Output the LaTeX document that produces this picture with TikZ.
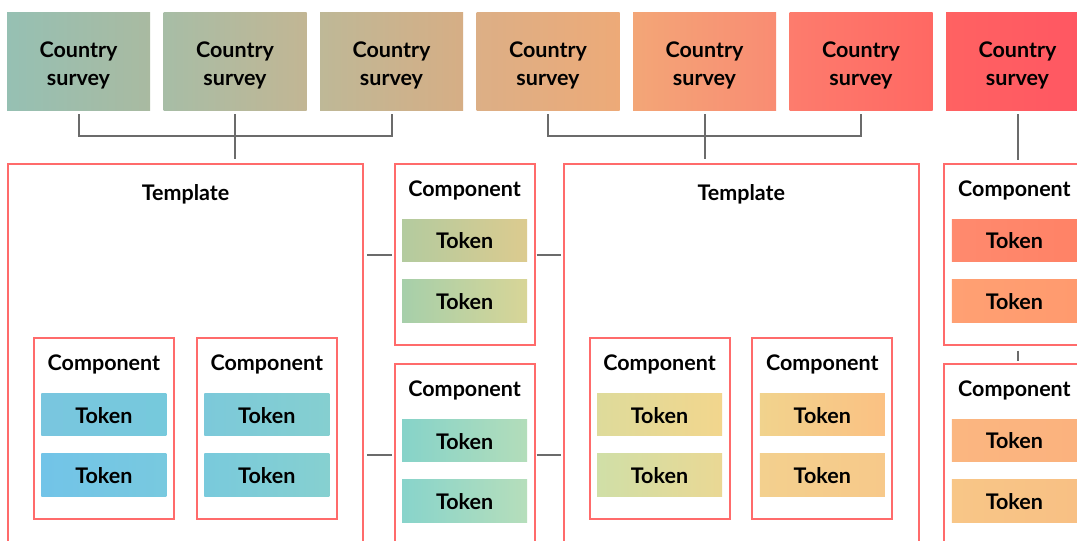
\documentclass[tikz,border=0pt]{standalone}
\usepackage{fontspec}
\setmainfont{Lato}
\definecolor{framered}{HTML}{FF6B6B}
\definecolor{conngray}{HTML}{6B6B6B}
% survey gradient colours
\definecolor{s1l}{HTML}{96C0B3}\definecolor{s1r}{HTML}{A9BAA1}
\definecolor{s2l}{HTML}{A7BDA6}\definecolor{s2r}{HTML}{C2B694}
\definecolor{s3l}{HTML}{BEB897}\definecolor{s3r}{HTML}{D6AE85}
\definecolor{s4l}{HTML}{DCAF86}\definecolor{s4r}{HTML}{EDAA78}
\definecolor{s5l}{HTML}{F3A677}\definecolor{s5r}{HTML}{F98C73}
\definecolor{s6l}{HTML}{FD7C6D}\definecolor{s6r}{HTML}{FF6863}
\definecolor{s7l}{HTML}{FF6262}\definecolor{s7r}{HTML}{FF5662}
% token colours
\definecolor{aal}{HTML}{79C6DF}\definecolor{aar}{HTML}{76C9DC}
\definecolor{abl}{HTML}{72C4E8}\definecolor{abr}{HTML}{78C9DF}
\definecolor{bal}{HTML}{7CC9DA}\definecolor{bar}{HTML}{85CFD0}
\definecolor{bbl}{HTML}{79CADC}\definecolor{bbr}{HTML}{86D0D0}
\definecolor{mal}{HTML}{B3CB9F}\definecolor{mar}{HTML}{DCCB8F}
\definecolor{mbl}{HTML}{A6CFAA}\definecolor{mbr}{HTML}{D8D597}
\definecolor{nal}{HTML}{86D3C9}\definecolor{nar}{HTML}{B3DDBA}
\definecolor{nbl}{HTML}{88D4CB}\definecolor{nbr}{HTML}{B6DEBB}
\definecolor{cal}{HTML}{DEDB9B}\definecolor{car}{HTML}{F2D68D}
\definecolor{cbl}{HTML}{D0DFA7}\definecolor{cbr}{HTML}{EAD894}
\definecolor{dal}{HTML}{F1D38D}\definecolor{dar}{HTML}{FBC183}
\definecolor{dbl}{HTML}{F3D08E}\definecolor{dbr}{HTML}{F7C98A}
\definecolor{ral}{HTML}{FF8A6E}\definecolor{rar}{HTML}{FF8266}
\definecolor{rbl}{HTML}{FFA073}\definecolor{rbr}{HTML}{FF9A6E}
\definecolor{qal}{HTML}{FBB680}\definecolor{qar}{HTML}{FBB27E}
\definecolor{qbl}{HTML}{F8C687}\definecolor{qbr}{HTML}{F8C084}
\newcommand\lblfont{\fontsize{21.5}{28}\selectfont\bfseries}
\tikzset{
  survey/.style={rectangle, inner sep=0pt, outer sep=0pt, minimum width=143pt, minimum height=98.7pt},
  stext/.style={inner sep=0pt, align=center, font=\lblfont},
  frame/.style={rectangle, inner sep=0pt, outer sep=0pt, anchor=north west, draw=framered, line width=2pt, fill=white},
  tmpl/.style={frame, minimum width=355.5pt, minimum height=440pt},
  comp/.style={frame, minimum width=140pt, minimum height=181pt},
  ctitle/.style={inner sep=0pt, anchor=base, font=\lblfont},
  tok/.style={rectangle, inner sep=0pt, outer sep=0pt, minimum width=125pt, minimum height=42.5pt, font=\lblfont, text height=17pt, text depth=0pt},
  conn/.style={draw=conngray, line width=2pt},
}
\newcommand\mkcomp[7]{%
  \node[comp] (#1) at (#2,#3) {};
  \node[ctitle] (#1t) at ([yshift=-32.5pt]#1.north) {Component};
  \node[tok, left color=#4, right color=#5] (#1a) at ([yshift=-76.25pt]#1.north) {Token};
  \node[tok, left color=#6, right color=#7] (#1b) at ([yshift=-136.75pt]#1.north) {Token};
}
\begin{document}
\begin{tikzpicture}[x=1pt,y=-1pt]
\useasboundingbox (0,0) rectangle (1077,541);
\clip (0,0) rectangle (1077,541);
\fill[white] (0,0) rectangle (1077,541);
% country surveys
\foreach \i/\x in {1/78.5,2/235,3/391.5,4/548,5/704.5,6/861,7/1017.5}{
  \node[survey, left color=s\i l, right color=s\i r] (c\i) at (\x,61.35) {};
  \node[stext] (c\i t) at ([yshift=-4.2pt]c\i.center) {Country\\survey};
}
% templates
\node[tmpl] (tp1) at (7.8,163.5) {};
\node[ctitle] (tp1t) at ([yshift=-37.3pt]tp1.north) {Template};
\node[tmpl] (tp2) at (563.5,163.5) {};
\node[ctitle] (tp2t) at ([yshift=-37.3pt]tp2.north) {Template};
% components inside templates
\mkcomp{ka}{33.9}{338.3}{aal}{aar}{abl}{abr}
\mkcomp{kb}{196.8}{338.3}{bal}{bar}{bbl}{bbr}
\mkcomp{kc}{589.5}{338.3}{cal}{car}{cbl}{cbr}
\mkcomp{kd}{752.3}{338.3}{dal}{dar}{dbl}{dbr}
% middle components
\mkcomp{m1}{394.6}{164}{mal}{mar}{mbl}{mbr}
\mkcomp{m2}{394.6}{364.3}{nal}{nar}{nbl}{nbr}
% right components
\mkcomp{r1}{944.4}{164}{ral}{rar}{rbl}{rbr}
\mkcomp{r2}{944.4}{364}{qal}{qar}{qbl}{qbr}
% connectors: surveys to templates
\path (c2.south) ++(0,25) coordinate (j1);
\draw[conn] ([yshift=-3.5pt]c1.south) |- (j1) -| ([yshift=-3.5pt]c3.south);
\coordinate (k1) at (c2.south |- tp1.north);
\draw[conn] ([yshift=-3.5pt]c2.south) -- ([yshift=4.5pt]k1);
\path (c5.south) ++(0,25) coordinate (j2);
\draw[conn] ([yshift=-3.5pt]c4.south) |- (j2) -| ([yshift=-3.5pt]c6.south);
\coordinate (k2) at (c5.south |- tp2.north);
\draw[conn] ([yshift=-3.5pt]c5.south) -- ([yshift=4.5pt]k2);
\coordinate (k3) at (c7.south |- r1.north);
\draw[conn] ([yshift=-3.5pt]c7.south) -- ([yshift=4.5pt]k3);
\coordinate (k4) at (c7.south |- r1.south);
\coordinate (k5) at (c7.south |- r2.north);
\draw[conn] ([yshift=-5.5pt]k4) -- ([yshift=3.5pt]k5);
% connectors: templates to middle components
\coordinate (h1) at (tp1.east |- m1.west);
\draw[conn] ([xshift=3.8pt]h1) -- ([xshift=-2.8pt]m1.west);
\coordinate (h2) at (tp1.east |- m2.west);
\draw[conn] ([xshift=3.8pt]h2) -- ([xshift=-2.8pt]m2.west);
\coordinate (h3) at (tp2.west |- m1.east);
\draw[conn] ([xshift=2pt]m1.east) -- ([xshift=-2.8pt]h3);
\coordinate (h4) at (tp2.west |- m2.east);
\draw[conn] ([xshift=2pt]m2.east) -- ([xshift=-2.8pt]h4);
\end{tikzpicture}
\end{document}
